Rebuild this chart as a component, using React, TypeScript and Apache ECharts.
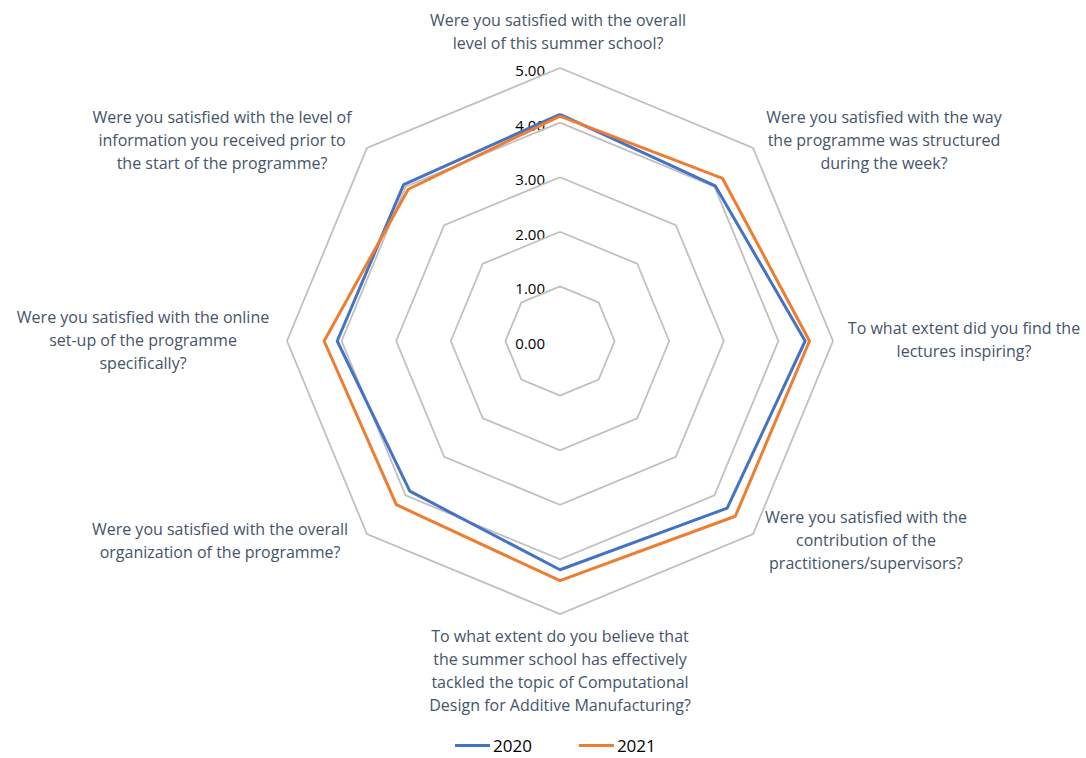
import React, { useEffect, useRef } from "react";
import * as echarts from "echarts";

// Questions, clockwise from the top
const questions = [
  "Were you satisfied with the overall\nlevel of this summer school?",
  "Were you satisfied with the way\nthe programme was structured\nduring the week?",
  "To what extent did you find the\nlectures inspiring?",
  "Were you satisfied with the\ncontribution of the\npractitioners/supervisors?",
  "To what extent do you believe that\nthe summer school has effectively\ntackled the topic of Computational\nDesign for Additive Manufacturing?",
  "Were you satisfied with the overall\norganization of the programme?",
  "Were you satisfied with the online\nset-up of the programme\nspecifically?",
  "Were you satisfied with the level of\ninformation you received prior to\nthe start of the programme?",
];

// Values, clockwise from the top
const values2020 = [4.15, 4.02, 4.49, 4.33, 4.19, 3.89, 4.08, 4.05];
const values2021 = [4.12, 4.21, 4.57, 4.54, 4.39, 4.24, 4.32, 3.93];

const seriesNames = ["2020", "2021"];
const tickValues = [0, 1, 2, 3, 4, 5];
const tickLabels = ["0.00", "1.00", "2.00", "3.00", "4.00", "5.00"];
const axisMax = 5;

// Layout (not data)
const CX = 560;
const CY = 341;
const RADIUS = 273;
const LINE_H = 23;
const labelAnchors: [number, number][] = [
  [558, 20],
  [884, 117],
  [964, 328],
  [866, 517],
  [560, 636],
  [220, 529],
  [143, 317],
  [222, 117],
];

const TEXT_COLOR = "#44546A";
const FONT = "'Open Sans', Lato, sans-serif";

export default function App() {
  const ref = useRef<HTMLDivElement>(null);

  useEffect(() => {
    if (!ref.current) return;
    const chart = echarts.init(ref.current, null, { renderer: "svg" });

    // ECharts radar lays indicators counter-clockwise; reorder so the
    // picture goes clockwise from the top.
    const order = [0, 7, 6, 5, 4, 3, 2, 1];
    const indicator = order.map((i) => ({ name: questions[i], min: 0, max: axisMax }));
    const d2020 = order.map((i) => values2020[i]);
    const d2021 = order.map((i) => values2021[i]);

    const unit = RADIUS / axisMax;

    const graphics: any[] = [];
    questions.forEach((q, i) => {
      const n = q.split("\n").length;
      const [x, y0] = labelAnchors[i];
      graphics.push({
        type: "text",
        x,
        y: y0 + ((n - 1) * LINE_H) / 2,
        silent: true,
        style: {
          text: q,
          fill: TEXT_COLOR,
          font: `16px ${FONT}`,
          align: "center",
          verticalAlign: "middle",
          lineHeight: LINE_H,
        },
      });
    });
    tickValues.forEach((v, i) => {
      graphics.push({
        type: "text",
        x: CX - 15,
        y: CY - v * unit + 2,
        silent: true,
        style: {
          text: tickLabels[i],
          fill: "#000000",
          font: `15px ${FONT}`,
          align: "right",
          verticalAlign: "middle",
        },
      });
    });

    chart.setOption({
      animation: false,
      backgroundColor: "#ffffff",
      color: ["#4472C4", "#ED7D31"],
      legend: {
        data: seriesNames,
        top: 737,
        left: 455,
        icon: "rect",
        itemWidth: 35,
        itemHeight: 3,
        itemGap: 47,
        padding: 0,
        textStyle: { color: "#000000", fontSize: 17, fontFamily: FONT, padding: [0, 0, 0, -2] },
      },
      radar: {
        center: [CX, CY],
        radius: RADIUS,
        startAngle: 90,
        shape: "polygon",
        splitNumber: 5,
        indicator,
        axisName: { show: false },
        axisLine: { show: false },
        axisTick: { show: false },
        axisLabel: { show: false },
        splitArea: { show: false },
        splitLine: { lineStyle: { color: "#BFBFBF", width: 1.75 } },
      },
      series: [
        {
          type: "radar",
          symbol: "none",
          data: [
            { name: seriesNames[0], value: d2020, lineStyle: { color: "#4472C4", width: 3 } },
            { name: seriesNames[1], value: d2021, lineStyle: { color: "#ED7D31", width: 3 } },
          ],
        },
      ],
      graphic: graphics,
    });

    return () => chart.dispose();
  }, []);

  return (
    <div
      ref={ref}
      style={{ position: "fixed", left: 0, top: 0, width: 1086, height: 758 }}
    />
  );
}
